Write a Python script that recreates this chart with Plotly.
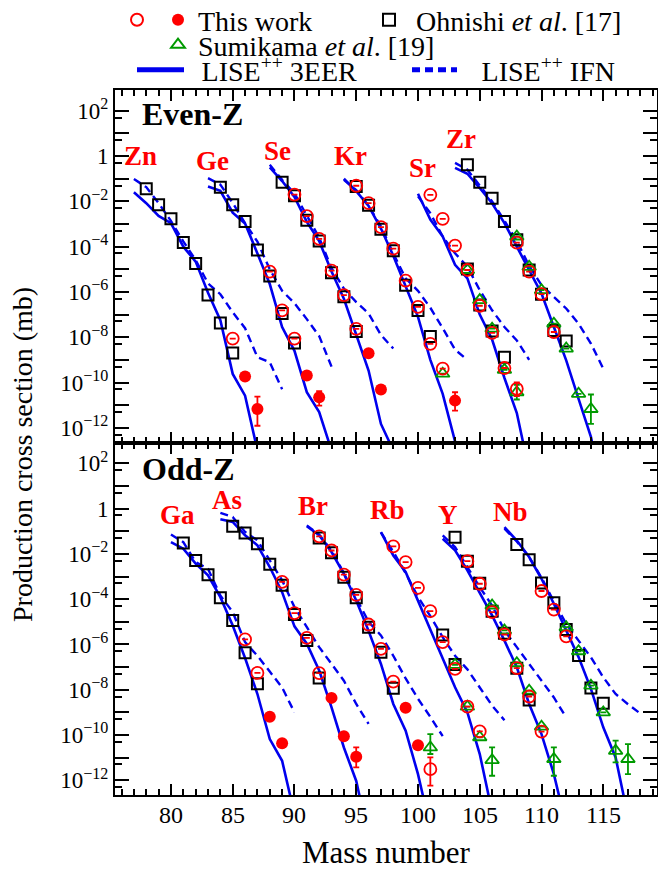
import plotly.graph_objects as go

FONT = "Liberation Serif, Times New Roman, Times, DejaVu Serif, serif"
RED = "#ff0000"
BLUE = "#0000ee"
GREEN = "#009a00"
BLACK = "#000000"

# ---------- data: log10(cross section / mb) ----------
# Even-Z (top panel)
zn_sq_A = [78, 79, 80, 81, 82, 83, 84, 85]
zn_sq = [-1.44, -2.15, -2.77, -3.82, -4.74, -6.14, -7.37, -8.70]
zn_op_A = [85]
zn_op = [-8.06]
zn_fi_A = [86, 87]
zn_fi = [-9.73, -11.17]
zn_fi_hi = [None, -10.62]
zn_fi_lo = [None, -11.91]
zn_eer_A = [77, 78, 79, 80, 81, 82, 83, 84, 85, 86, 87]
zn_eer = [-1.60, -2.08, -2.64, -2.96, -4.00, -4.66, -6.04, -7.25, -9.62, -10.58, -13.0]
zn_ifn_A = [77, 78, 79, 80, 81, 82, 83, 84, 85, 86, 87, 88, 89]
zn_ifn = [-1.01, -1.37, -2.08, -2.86, -3.77, -4.59, -5.62, -6.10, -6.90, -7.60, -8.88, -9.10, -10.30]

ge_sq_A = [84, 85, 86, 87, 88, 89, 90]
ge_sq = [-1.38, -2.15, -2.89, -4.15, -5.30, -6.95, -8.25]
ge_op_A = [88, 89, 90]
ge_op = [-5.10, -6.81, -8.06]
ge_fi_A = [91, 92]
ge_fi = [-9.69, -10.65]
ge_fi_hi = [None, -10.38]
ge_fi_lo = [None, -11.02]
ge_eer_A = [83, 84, 85, 86, 87, 88, 89, 90, 91, 92, 93]
ge_eer = [-1.34, -1.53, -2.50, -2.98, -4.30, -5.65, -7.55, -8.60, -10.43, -11.31, -13.0]
ge_ifn_A = [83, 84, 85, 86, 87, 88, 89, 90, 91, 92, 93]
ge_ifn = [-0.97, -1.26, -2.07, -2.96, -3.78, -5.00, -5.95, -6.50, -7.20, -7.95, -9.30]

se_sq_A = [89, 90, 91, 92, 93, 94, 95]
se_sq = [-1.16, -1.75, -2.83, -3.75, -5.15, -6.21, -7.75]
se_op_A = [90, 91, 92, 93, 94, 95]
se_op = [-1.70, -2.65, -3.66, -5.06, -6.14, -7.63]
se_fi_A = [96, 97]
se_fi = [-8.71, -10.31]
se_eer_A = [88, 89, 90, 91, 92, 93, 94, 95, 96, 97, 98]
se_eer = [-0.50, -1.10, -1.80, -2.90, -3.75, -5.10, -6.30, -7.85, -9.47, -11.83, -13.0]
se_ifn_A = [88, 89, 90, 91, 92, 93, 94, 95, 96, 97, 98]
se_ifn = [-0.38, -1.05, -1.65, -2.60, -3.60, -4.95, -5.85, -6.45, -6.95, -7.90, -8.50]

kr_sq_A = [95, 96, 97, 98, 99, 100, 101]
kr_sq = [-1.34, -2.17, -3.23, -4.18, -5.70, -6.82, -7.97]
kr_op_A = [95, 96, 97, 98, 99, 100, 101, 102]
kr_op = [-1.31, -2.08, -3.14, -4.09, -5.50, -6.66, -8.29, -9.39]
kr_tr_A = [102]
kr_tr = [-9.61]
kr_fi_A = [103]
kr_fi = [-10.80]
kr_fi_hi = [-10.43]
kr_fi_lo = [-11.24]
kr_eer_A = [94, 95, 96, 97, 98, 99, 100, 101, 102, 103, 104]
kr_eer = [-1.00, -1.55, -2.20, -3.20, -4.40, -5.75, -7.10, -9.00, -10.50, -12.60, -14.5]
kr_ifn_A = [94, 95, 96, 97, 98, 99, 100, 101, 102, 103, 104]
kr_ifn = [-1.05, -1.50, -2.20, -3.10, -4.30, -5.40, -5.95, -6.70, -7.60, -8.55, -9.00]

sr_op_A = [101, 102, 103, 104, 105, 106, 107, 108]
sr_op = [-1.71, -2.77, -3.95, -5.03, -6.61, -7.81, -9.36, -10.28]
sr_op_hi = [None, None, None, None, None, None, None, -10.00]
sr_op_lo = [None, None, None, None, None, None, None, -10.60]
sr_sq_A = [104, 105, 106, 107]
sr_sq = [-4.99, -6.58, -7.72, -8.88]
sr_tr_A = [104, 105, 106, 107, 108]
sr_tr = [-5.03, -6.36, -7.62, -9.44, -10.43]
sr_tr_hi = [None, None, None, None, -10.10]
sr_tr_lo = [None, None, None, None, -10.75]
sr_eer_A = [100, 101, 102, 103, 104, 105, 106, 107, 108, 109]
sr_eer = [-1.66, -2.80, -3.55, -4.80, -5.40, -7.00, -8.10, -9.80, -11.35, -13.90]
sr_ifn_A = [100, 101, 102, 103, 104, 105, 106, 107, 108, 109]
sr_ifn = [-1.78, -2.52, -3.55, -4.29, -4.89, -5.92, -6.81, -7.55, -8.14, -9.00]

zr_sq_A = [104, 105, 106, 107, 108, 109, 110, 111, 112]
zr_sq = [-0.38, -1.16, -1.86, -2.89, -3.70, -5.03, -6.10, -7.70, -8.17]
zr_op_A = [108, 109, 110, 111]
zr_op = [-3.82, -5.10, -6.10, -7.77]
zr_tr_A = [108, 109, 110, 111, 112, 113, 114]
zr_tr = [-3.55, -4.89, -5.92, -7.40, -8.50, -10.50, -11.17]
zr_tr_hi = [None, None, None, None, None, None, -10.53]
zr_tr_lo = [None, None, None, None, None, None, -11.83]
zr_eer_A = [103, 104, 105, 106, 107, 108, 109, 110, 111, 112, 113, 114, 115]
zr_eer = [-0.52, -0.78, -1.41, -2.08, -2.96, -4.00, -5.03, -6.07, -7.55, -9.02, -10.72, -12.40, -15.0]
zr_ifn_A = [103, 104, 105, 106, 107, 108, 109, 110, 111, 112, 113, 114, 115]
zr_ifn = [-0.30, -0.60, -1.30, -2.00, -2.85, -3.75, -4.85, -5.70, -6.22, -6.73, -7.40, -8.28, -9.39]

# Odd-Z (bottom panel)
ga_sq_A = [81, 82, 83, 84, 85, 86, 87]
ga_sq = [-1.52, -2.29, -2.92, -3.94, -4.94, -6.37, -7.74]
ga_op_A = [86, 87]
ga_op = [-5.78, -7.26]
ga_fi_A = [88, 89]
ga_fi = [-9.19, -10.36]
ga_eer_A = [80, 81, 82, 83, 84, 85, 86, 87, 88, 89, 90]
ga_eer = [-1.48, -1.77, -2.43, -2.95, -3.91, -5.16, -6.60, -8.19, -10.18, -11.14, -13.5]
ga_ifn_A = [80, 81, 82, 83, 84, 85, 86, 87, 88, 89, 90]
ga_ifn = [-1.14, -1.48, -2.36, -2.66, -3.84, -4.57, -5.90, -6.50, -7.20, -7.90, -9.00]

as_sq_A = [85, 86, 87, 88, 89, 90, 91, 92]
as_sq = [-0.78, -1.08, -1.55, -2.46, -3.39, -4.68, -5.83, -7.48]
as_op_A = [89, 90, 91, 92]
as_op = [-3.24, -4.62, -5.71, -7.27]
as_fi_A = [93, 94, 95]
as_fi = [-8.36, -10.06, -10.96]
as_fi_hi = [None, None, -10.55]
as_fi_lo = [None, None, -11.43]
as_eer_A = [84, 85, 86, 87, 88, 89, 90, 91, 92, 93, 94, 95, 96]
as_eer = [-0.47, -0.59, -1.18, -1.62, -2.58, -3.69, -5.20, -5.97, -7.15, -8.78, -10.55, -12.03, -14.5]
as_ifn_A = [84, 85, 86, 87, 88, 89, 90, 91, 92, 93, 94, 95, 96]
as_ifn = [-0.19, -0.37, -1.03, -1.40, -2.29, -3.17, -4.35, -5.24, -6.12, -6.86, -7.60, -8.63, -9.51]

br_sq_A = [92, 93, 94, 95, 96, 97, 98]
br_sq = [-1.30, -1.95, -3.03, -3.94, -5.24, -6.34, -7.94]
br_op_A = [92, 93, 94, 95, 96, 97, 98, 101]
br_op = [-1.23, -1.85, -2.92, -3.81, -5.12, -6.20, -7.64, -11.51]
br_op_hi = [None, None, None, None, None, None, None, -10.99]
br_op_lo = [None, None, None, None, None, None, None, -12.24]
br_fi_A = [99, 100]
br_fi = [-8.80, -10.45]
br_tr_A = [101]
br_tr = [-10.55]
br_tr_hi = [-9.96]
br_tr_lo = [-10.84]
br_eer_A = [91, 92, 93, 94, 95, 96, 97, 98, 99, 100, 101]
br_eer = [-0.78, -1.18, -1.92, -2.88, -4.06, -5.40, -6.86, -8.63, -9.81, -11.73, -14.1]
br_ifn_A = [91, 92, 93, 94, 95, 96, 97, 98, 99, 100, 101, 102]
br_ifn = [-0.74, -1.15, -1.85, -2.85, -3.95, -5.00, -5.60, -6.50, -7.50, -8.40, -9.20, -10.05]

rb_op_A = [98, 99, 100, 101, 102, 103, 104, 105]
rb_op = [-1.67, -2.36, -3.50, -4.53, -5.90, -7.08, -8.75, -9.84]
rb_sq_A = [102, 103]
rb_sq = [-5.58, -6.89]
rb_tr_A = [103, 104, 105, 106]
rb_tr = [-6.90, -8.75, -10.10, -11.11]
rb_tr_hi = [None, None, None, -10.55]
rb_tr_lo = [None, None, None, -11.80]
rb_eer_A = [97, 98, 99, 100, 101, 102, 103, 104, 105, 106]
rb_eer = [-1.04, -2.07, -2.80, -4.06, -5.31, -6.56, -7.89, -9.00, -10.84, -13.40]
rb_ifn_A = [97, 98, 99, 100, 101, 102, 103, 104, 105, 106, 107]
rb_ifn = [-1.05, -1.90, -2.85, -3.90, -4.75, -5.68, -6.50, -7.10, -7.90, -8.70, -9.35]

y_sq_A = [103, 104, 105, 106, 107, 108, 109]
y_sq = [-1.26, -2.32, -3.30, -4.53, -5.51, -7.05, -8.45]
y_op_A = [104, 105, 106, 107, 108, 109, 110]
y_op = [-2.32, -3.32, -4.57, -5.56, -7.05, -8.30, -9.85]
y_tr_A = [106, 107, 108, 109, 110, 111]
y_tr = [-4.28, -5.38, -6.83, -8.04, -9.63, -11.06]
y_tr_hi = [None, None, None, None, None, -10.55]
y_tr_lo = [None, None, None, None, None, -11.80]
y_eer_A = [102, 103, 104, 105, 106, 107, 108, 109, 110, 111, 112]
y_eer = [-1.33, -1.84, -2.73, -3.76, -4.72, -5.83, -7.01, -8.63, -9.96, -11.73, -14.0]
y_ifn_A = [102, 103, 104, 105, 106, 107, 108, 109, 110, 111, 112]
y_ifn = [-1.18, -1.70, -2.58, -3.47, -4.28, -5.38, -6.12, -6.86, -7.60, -8.34, -9.22]

nb_sq_A = [108, 109, 110, 111, 112, 113, 114, 115]
nb_sq = [-1.58, -2.26, -3.29, -4.16, -5.34, -6.49, -7.92, -8.60]
nb_op_A = [110, 111, 112]
nb_op = [-3.64, -4.46, -5.64]
nb_tr_A = [112, 113, 114, 115, 116, 117]
nb_tr = [-5.24, -6.30, -7.82, -9.00, -10.70, -11.06]
nb_tr_hi = [None, None, None, None, -10.25, -10.40]
nb_tr_lo = [None, None, None, None, -11.21, -11.73]
nb_eer_A = [107, 108, 109, 110, 111, 112, 113, 114, 115, 116, 117]
nb_eer = [-0.82, -1.41, -2.14, -3.10, -4.20, -5.38, -6.56, -7.96, -9.66, -10.99, -13.6]
nb_ifn_A = [107, 108, 109, 110, 111, 112, 113, 114, 115, 116, 117, 118]
nb_ifn = [-0.89, -1.45, -2.15, -3.05, -4.10, -5.09, -5.83, -6.57, -7.45, -8.19, -8.64, -9.05]

# element labels: (text, mass position, log10 position)
even_labels = [("Zn", 77.5, 0.0), ("Ge", 83.4, -0.22), ("Se", 88.6, 0.22),
               ("Kr", 94.5, 0.0), ("Sr", 100.4, -0.51), ("Zr", 103.5, 0.74)]
odd_labels = [("Ga", 80.5, -0.30), ("As", 84.5, 0.37), ("Br", 91.5, 0.10),
              ("Rb", 97.5, -0.08), ("Y", 102.45, -0.30), ("Nb", 107.45, -0.15)]

x_tick_vals = [80, 85, 90, 95, 100, 105, 110, 115]
y_tick_exp = [2, 1, 0, -1, -2, -3, -4, -5, -6, -7, -8, -9, -10, -11, -12]
x_range = [75.47, 119.35]
y_range = [-12.65, 2.92]

# ---------- helpers ----------
def lin(v):
    return 10 ** v


def marker_set(groups):
    xs, ys, up, dn = [], [], [], []
    has_err = False
    for g in groups:
        A, L = g[0], g[1]
        hi = g[2] if len(g) > 2 else [None] * len(A)
        lo = g[3] if len(g) > 3 else [None] * len(A)
        for a, v, h, l in zip(A, L, hi, lo):
            xs.append(a)
            ys.append(lin(v))
            if h is not None:
                has_err = True
                up.append(lin(h) - lin(v))
                dn.append(lin(v) - lin(l))
            else:
                up.append(0)
                dn.append(0)
    return xs, ys, (up, dn) if has_err else None


def line_set(groups):
    xs, ys = [], []
    for A, L in groups:
        xs += list(A) + [None]
        ys += [lin(v) for v in L] + [None]
    return xs, ys


fig = go.Figure()

panels = [
    dict(xa="x", ya="y", first=True,
         eer=[(zn_eer_A, zn_eer), (ge_eer_A, ge_eer), (se_eer_A, se_eer), (kr_eer_A, kr_eer),
              (sr_eer_A, sr_eer), (zr_eer_A, zr_eer)],
         ifn=[(zn_ifn_A, zn_ifn), (ge_ifn_A, ge_ifn), (se_ifn_A, se_ifn), (kr_ifn_A, kr_ifn),
              (sr_ifn_A, sr_ifn), (zr_ifn_A, zr_ifn)],
         sq=[(zn_sq_A, zn_sq), (ge_sq_A, ge_sq), (se_sq_A, se_sq), (kr_sq_A, kr_sq),
             (sr_sq_A, sr_sq), (zr_sq_A, zr_sq)],
         tr=[(kr_tr_A, kr_tr), (sr_tr_A, sr_tr, sr_tr_hi, sr_tr_lo), (zr_tr_A, zr_tr, zr_tr_hi, zr_tr_lo)],
         op=[(zn_op_A, zn_op), (ge_op_A, ge_op), (se_op_A, se_op), (kr_op_A, kr_op),
             (sr_op_A, sr_op, sr_op_hi, sr_op_lo), (zr_op_A, zr_op)],
         fi=[(zn_fi_A, zn_fi, zn_fi_hi, zn_fi_lo), (ge_fi_A, ge_fi, ge_fi_hi, ge_fi_lo),
             (se_fi_A, se_fi), (kr_fi_A, kr_fi, kr_fi_hi, kr_fi_lo)]),
    dict(xa="x2", ya="y2", first=False,
         eer=[(ga_eer_A, ga_eer), (as_eer_A, as_eer), (br_eer_A, br_eer), (rb_eer_A, rb_eer),
              (y_eer_A, y_eer), (nb_eer_A, nb_eer)],
         ifn=[(ga_ifn_A, ga_ifn), (as_ifn_A, as_ifn), (br_ifn_A, br_ifn), (rb_ifn_A, rb_ifn),
              (y_ifn_A, y_ifn), (nb_ifn_A, nb_ifn)],
         sq=[(ga_sq_A, ga_sq), (as_sq_A, as_sq), (br_sq_A, br_sq), (rb_sq_A, rb_sq),
             (y_sq_A, y_sq), (nb_sq_A, nb_sq)],
         tr=[(br_tr_A, br_tr, br_tr_hi, br_tr_lo), (rb_tr_A, rb_tr, rb_tr_hi, rb_tr_lo),
             (y_tr_A, y_tr, y_tr_hi, y_tr_lo), (nb_tr_A, nb_tr, nb_tr_hi, nb_tr_lo)],
         op=[(ga_op_A, ga_op), (as_op_A, as_op), (br_op_A, br_op, br_op_hi, br_op_lo),
             (rb_op_A, rb_op), (y_op_A, y_op), (nb_op_A, nb_op)],
         fi=[(ga_fi_A, ga_fi), (as_fi_A, as_fi, as_fi_hi, as_fi_lo), (br_fi_A, br_fi)]),
]


def err_dict(e, color):
    if e is None:
        return None
    return dict(type="data", symmetric=False, array=e[0], arrayminus=e[1],
                color=color, thickness=1.8, width=3)


NB = "\u00a0"
for p in panels:
    lx, ly = line_set(p["ifn"])
    fig.add_trace(go.Scatter(x=lx, y=ly, mode="lines", xaxis=p["xa"], yaxis=p["ya"],
                             line=dict(color=BLUE, width=2.4, dash="8px,5px"),
                             name=NB + NB + "\u2009LISE<sup>++</sup> IFN", legend="legend6",
                             showlegend=p["first"], hoverinfo="skip"))
    lx, ly = line_set(p["eer"])
    fig.add_trace(go.Scatter(x=lx, y=ly, mode="lines", xaxis=p["xa"], yaxis=p["ya"],
                             line=dict(color=BLUE, width=2.6),
                             name=NB + "\u2009LISE<sup>++</sup> 3EER", legend="legend5",
                             showlegend=p["first"], hoverinfo="skip"))
    mx, my, e = marker_set(p["sq"])
    fig.add_trace(go.Scatter(x=mx, y=my, mode="markers", xaxis=p["xa"], yaxis=p["ya"],
                             marker=dict(symbol="square-open", size=11, color=BLACK, line=dict(width=2)),
                             name=NB + "Ohnishi <i>et al</i>. [17]", legend="legend3",
                             showlegend=p["first"]))
    mx, my, e = marker_set(p["tr"])
    fig.add_trace(go.Scatter(x=mx, y=my, mode="markers", xaxis=p["xa"], yaxis=p["ya"],
                             marker=dict(symbol="triangle-up-open", size=12, color=GREEN, line=dict(width=1.8)),
                             error_y=err_dict(e, GREEN),
                             name="Sumikama <i>et al</i>. [19]", legend="legend4",
                             showlegend=p["first"]))
    mx, my, e = marker_set(p["op"])
    fig.add_trace(go.Scatter(x=mx, y=my, mode="markers", xaxis=p["xa"], yaxis=p["ya"],
                             marker=dict(symbol="circle-open", size=12, color=RED, line=dict(width=1.8)),
                             error_y=err_dict(e, RED),
                             name=" ", legend="legend",
                             showlegend=p["first"]))
    mx, my, e = marker_set(p["fi"])
    fig.add_trace(go.Scatter(x=mx, y=my, mode="markers", xaxis=p["xa"], yaxis=p["ya"],
                             marker=dict(symbol="circle", size=12, color=RED),
                             error_y=err_dict(e, RED),
                             name="This work", legend="legend2",
                             showlegend=p["first"]))


def ytext(n):
    if n % 2:
        return ""
    if n == 0:
        return "1"
    return "10<sup>" + str(n).replace("-", "\u2212") + "</sup>"


yaxis_common = dict(
    type="log", range=y_range, ticks="inside", mirror="allticks", showline=True,
    linecolor=BLACK, linewidth=2, ticklen=14, tickwidth=1.5, tickcolor=BLACK,
    tickmode="array", tickvals=[lin(n) for n in y_tick_exp], ticktext=[ytext(n) for n in y_tick_exp],
    tickfont=dict(family=FONT, size=23, color=BLACK), showgrid=False, zeroline=False,
    minor=dict(tickmode="array", tickvals=[5 * lin(n - 1) for n in y_tick_exp] + [5 * lin(-13)],
               ticklen=7, tickwidth=1.5, tickcolor=BLACK, ticks="inside"),
)
xaxis_common = dict(
    range=x_range, ticks="inside", mirror="allticks", showline=True, linecolor=BLACK, linewidth=2,
    ticklen=11, tickwidth=1.5, tickcolor=BLACK, tickmode="array", tickvals=x_tick_vals,
    showgrid=False, zeroline=False, showticklabels=False,
    minor=dict(dtick=1, tick0=80, ticklen=6, tickwidth=1.5, tickcolor=BLACK, ticks="inside"),
)

W, H = 658, 869
ML, MR, MT, MB = 115, 1, 90, 74
PW, PH = W - ML - MR, H - MT - MB


def px(x):
    return (x - ML) / PW


def py(y):
    return (H - MB - y) / PH


leg_common = dict(font=dict(family=FONT, size=28, color=BLACK), bgcolor="rgba(0,0,0,0)",
                  borderwidth=0, orientation="h", xanchor="left", yanchor="middle",
                  itemsizing="constant")

fig.update_layout(
    width=W, height=H, margin=dict(l=ML, r=MR, t=MT, b=MB, autoexpand=False),
    paper_bgcolor="white", plot_bgcolor="white",
    font=dict(family=FONT, color=BLACK),
    xaxis=dict(xaxis_common, anchor="y", domain=[0, 1]),
    yaxis=dict(yaxis_common, anchor="x", domain=[0.5, 1]),
    xaxis2=dict(xaxis_common, anchor="y2", domain=[0, 1]),
    yaxis2=dict(yaxis_common, anchor="x2", domain=[0, 0.5]),
    legend=dict(leg_common, x=px(117), y=py(20)),
    legend2=dict(leg_common, x=px(158), y=py(20)),
    legend3=dict(leg_common, x=px(369), y=py(20)),
    legend4=dict(leg_common, x=px(158), y=py(45)),
    legend5=dict(leg_common, x=px(132), y=py(70), itemwidth=47),
    legend6=dict(leg_common, x=px(407), y=py(70), itemwidth=45),
    showlegend=True,
)

ann = []
for v in x_tick_vals:
    ann.append(dict(text=str(v), x=v, y=py(815), xref="x2", yref="paper", xanchor="center",
                    yanchor="middle", showarrow=False, font=dict(family=FONT, size=24, color=BLACK)))
for t, a, v in even_labels:
    ann.append(dict(text="<b>" + t + "</b>", x=a, y=v, xref="x", yref="y", showarrow=False,
                    font=dict(family=FONT, size=27, color=RED)))
for t, a, v in odd_labels:
    ann.append(dict(text="<b>" + t + "</b>", x=a, y=v, xref="x2", yref="y2", showarrow=False,
                    font=dict(family=FONT, size=27, color=RED)))
ann.append(dict(text="<b>Even-Z</b>", x=77.5, y=1.84, xref="x", yref="y", xanchor="left",
                showarrow=False, font=dict(family=FONT, size=32, color=BLACK)))
ann.append(dict(text="<b>Odd-Z</b>", x=77.5, y=1.77, xref="x2", yref="y2", xanchor="left",
                showarrow=False, font=dict(family=FONT, size=32, color=BLACK)))
ann.append(dict(text="Production cross section (mb)", x=px(22), y=py(455), xref="paper", yref="paper",
                xanchor="center", yanchor="middle",
                textangle=-90, showarrow=False, font=dict(family=FONT, size=28, color=BLACK)))
ann.append(dict(text="Mass number", x=px(386), y=py(853), xref="paper", yref="paper",
                xanchor="center", yanchor="middle",
                showarrow=False, font=dict(family=FONT, size=31, color=BLACK)))
fig.update_layout(annotations=ann)

fig.write_html("out.html")
